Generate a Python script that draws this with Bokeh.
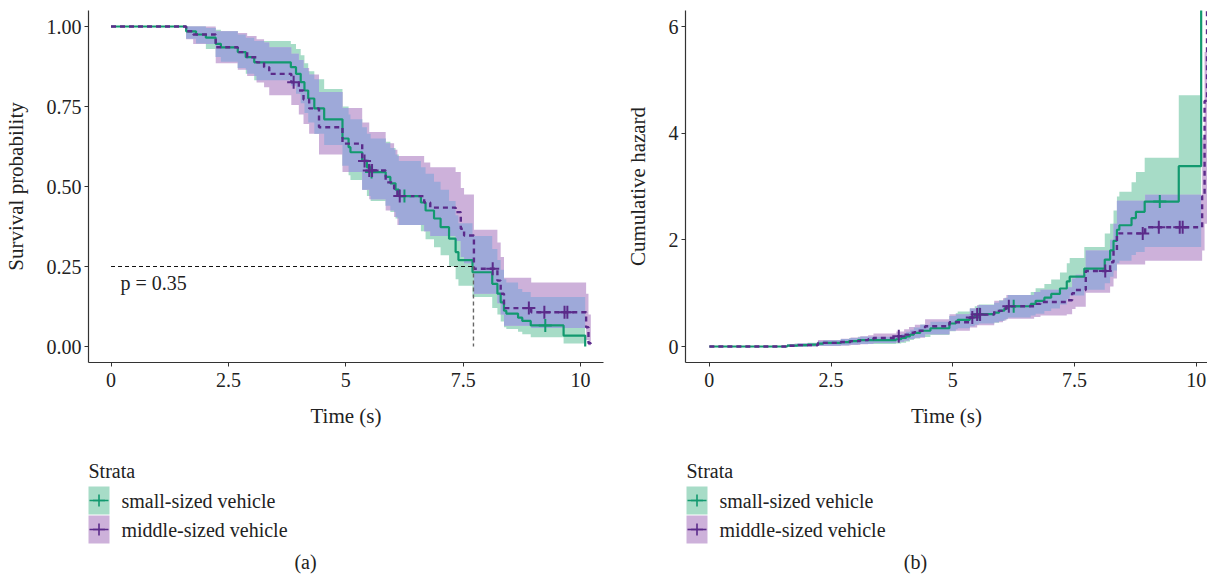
import numpy as np
from bokeh.plotting import figure
from bokeh.layouts import column, row
from bokeh.models import Range1d, FixedTicker
from bokeh.embed import file_html
from bokeh.resources import INLINE
from bokeh.core.properties import value

# ---------------- data ----------------
small_time = [0, 1.60, 1.81, 2.02, 2.23, 2.34, 2.70, 2.87, 3.05, 3.83, 3.94, 4.04, 4.12, 4.20,
              4.33, 4.54, 4.93, 5.06, 5.10, 5.35, 5.45, 5.53, 5.85, 5.95, 6.06, 6.13, 6.60, 6.70,
              6.88, 7.02, 7.20, 7.34, 7.40, 7.70, 8.12, 8.23, 8.30, 8.37, 8.42, 8.67, 8.76, 8.94,
              9.64, 10.10]
small_surv = [1.0, .985, .975, .965, .946, .935, .920, .904, .888, .873, .852, .826, .800, .775,
              .744, .710, .650, .623, .607, .580, .560, .545, .530, .510, .490, .470, .450, .425,
              .400, .373, .337, .295, .270, .232, .196, .165, .138, .112, .103, .090, .080, .066,
              .034, 0.0]
small_lower = [1.0, .962, .947, .930, .905, .890, .870, .852, .832, .815, .790, .760, .730, .700,
               .665, .630, .565, .535, .520, .490, .470, .455, .440, .420, .400, .380, .360, .335,
               .310, .285, .250, .210, .190, .155, .120, .100, .078, .060, .055, .046, .038, .029,
               .009]
small_upper = [1.0, 1.0, 1.0, .995, .990, .985, .975, .965, .955, .945, .930, .910, .885, .860,
               .835, .805, .750, .725, .710, .685, .665, .650, .640, .620, .600, .580, .560, .540,
               .515, .490, .455, .410, .385, .345, .305, .270, .240, .210, .200, .180, .170, .155,
               .155]
small_censor = [5.55, 6.25, 9.25]

mid_time = [0, 1.60, 1.75, 2.23, 2.70, 2.90, 3.10, 3.26, 3.37, 3.84, 4.00, 4.10, 4.22, 4.43,
            4.93, 5.35, 5.50, 5.85, 6.03, 6.10, 6.67, 6.80, 7.34, 7.45, 7.52, 7.73, 8.23, 8.30,
            8.37, 8.95, 10.12, 10.17, 10.22]
mid_surv = [1.0, .985, .975, .935, .920, .904, .888, .873, .852, .826, .800, .772, .744, .685,
            .634, .580, .550, .513, .493, .470, .450, .434, .420, .368, .347, .243, .206, .165,
            .120, .107, .060, .010, 0.0]
mid_lower = [1.0, .960, .945, .885, .865, .845, .825, .810, .785, .755, .725, .695, .665, .600,
             .545, .490, .460, .425, .405, .380, .360, .345, .330, .280, .260, .165, .135, .100,
             .065, .058, .020, .004]
mid_upper = [1.0, 1.0, 1.0, .985, .980, .970, .960, .950, .935, .915, .895, .870, .850, .795,
             .745, .700, .670, .635, .615, .595, .575, .560, .545, .495, .475, .365, .325, .280,
             .215, .200, .165, .100]
mid_censor = [3.89, 5.40, 5.50, 5.56, 6.15, 8.13, 8.90, 9.23, 9.66, 9.72]

median_time = 7.72
median_level = 0.25
p_value_text = "p = 0.35"
strata_labels = ["small-sized vehicle", "middle-sized vehicle"]

x_ticks = [0, 2.5, 5, 7.5, 10]
x_tick_labels = ["0", "2.5", "5", "7.5", "10"]
surv_ticks = [0, 0.25, 0.5, 0.75, 1.0]
surv_tick_labels = ["0.00", "0.25", "0.50", "0.75", "1.00"]
haz_ticks = [0, 2, 4, 6]
haz_tick_labels = ["0", "2", "4", "6"]

# ---------------- styles ----------------
FONT = "Liberation Serif"
GREEN_LINE = "#12996f"
PURPLE_LINE = "#5b2b8a"
GREEN_FILL = "#a7dcc7"
PURPLE_FILL = "#cdb1da"
OVERLAP_FILL = "#9ea9d9"
TEXT = "#222222"
AXIS = "#333333"


def step_at(times, vals, t):
    idx = np.searchsorted(np.asarray(times), np.asarray(t), side="right") - 1
    return np.asarray(vals, dtype=float)[idx]


def band_xy(times, band):
    n = len(band)
    x = np.array(list(times[:n]) + [times[n]], dtype=float)
    y = np.array(list(band) + [band[-1]], dtype=float)
    return x, y


gx, g_lo = band_xy(small_time, small_lower)
_, g_hi = band_xy(small_time, small_upper)
px_, p_lo = band_xy(mid_time, mid_lower)
_, p_hi = band_xy(mid_time, mid_upper)

band_end = min(gx[-1], px_[-1])
grid = np.array(sorted(set([t for t in gx if t < band_end] + [t for t in px_ if t < band_end])))
ov_lo = np.maximum(step_at(gx, g_lo, grid), step_at(px_, p_lo, grid))
ov_hi = np.minimum(step_at(gx, g_hi, grid), step_at(px_, p_hi, grid))
ov_hi = np.maximum(ov_hi, ov_lo)
ov_x = np.append(grid, band_end)
ov_lo = np.append(ov_lo, ov_lo[-1])
ov_hi = np.append(ov_hi, ov_hi[-1])


def cumhaz(s):
    return -np.log(np.clip(np.asarray(s, dtype=float), 1e-12, None))


def ident(s):
    return np.asarray(s, dtype=float)


def style_axes(p, yticks, ylabels, ylabel, ystandoff):
    for ax in (p.xaxis, p.yaxis):
        ax.axis_line_color = AXIS
        ax.axis_line_width = 1.2
        ax.major_tick_line_color = AXIS
        ax.major_tick_in = 0
        ax.major_tick_out = 4
        ax.minor_tick_line_color = None
        ax.major_label_text_font = FONT
        ax.major_label_text_font_size = "20px"
        ax.major_label_text_color = TEXT
        ax.axis_label_text_font = FONT
        ax.axis_label_text_font_size = "21px"
        ax.axis_label_text_font_style = "normal"
        ax.axis_label_text_color = TEXT
    p.xaxis.ticker = FixedTicker(ticks=x_ticks)
    p.xaxis.major_label_overrides = {t: l for t, l in zip(x_ticks, x_tick_labels)}
    p.yaxis.ticker = FixedTicker(ticks=yticks)
    p.yaxis.major_label_overrides = {t: l for t, l in zip(yticks, ylabels)}
    p.xaxis.axis_label = "Time (s)"
    p.yaxis.axis_label = ylabel
    p.xaxis.major_label_standoff = 6
    p.xaxis.axis_label_standoff = 14
    p.yaxis.major_label_standoff = 3
    p.yaxis.axis_label_standoff = ystandoff
    p.grid.grid_line_color = None
    p.outline_line_color = None


def draw(p, tf, flip):
    lo_g, hi_g = (g_hi, g_lo) if flip else (g_lo, g_hi)
    lo_p, hi_p = (p_hi, p_lo) if flip else (p_lo, p_hi)
    lo_o, hi_o = (ov_hi, ov_lo) if flip else (ov_lo, ov_hi)
    p.varea_step(x=gx, y1=tf(lo_g), y2=tf(hi_g), step_mode="after", fill_color=GREEN_FILL, fill_alpha=1)
    p.varea_step(x=px_, y1=tf(lo_p), y2=tf(hi_p), step_mode="after", fill_color=PURPLE_FILL, fill_alpha=1)
    p.varea_step(x=ov_x, y1=tf(lo_o), y2=tf(hi_o), step_mode="after", fill_color=OVERLAP_FILL, fill_alpha=1)
    p.step(x=small_time, y=tf(small_surv), mode="after", line_color=GREEN_LINE, line_width=2.2)
    p.step(x=mid_time, y=tf(mid_surv), mode="after", line_color=PURPLE_LINE, line_width=2.4,
           line_dash="5 4")
    p.scatter(x=small_censor, y=tf(step_at(small_time, small_surv, small_censor)), marker="cross",
              size=13, line_color=GREEN_LINE, line_width=2)
    p.scatter(x=mid_censor, y=tf(step_at(mid_time, mid_surv, mid_censor)), marker="cross",
              size=13, line_color=PURPLE_LINE, line_width=2)


# ---------------- panel (a) ----------------
pa = figure(width=606, height=440, x_range=Range1d(-0.48, 10.49), y_range=Range1d(-0.05, 1.05),
            output_backend="svg", toolbar_location=None, min_border_left=88, min_border_right=3,
            min_border_top=10, min_border_bottom=78)
draw(pa, ident, False)
pa.line(x=[0, median_time], y=[median_level, median_level], line_color="#111111", line_width=1.2,
        line_dash="4 3")
pa.line(x=[median_time, median_time], y=[median_level, 0], line_color="#666666", line_width=1.4,
        line_dash="4 3")
pa.text(x=[0.2], y=[0.2], text=[p_value_text], text_font=value(FONT), text_font_size="20px",
        text_color=TEXT, text_baseline="middle", text_align="left")
style_axes(pa, surv_ticks, surv_tick_labels, "Survival probability", 16)

# ---------------- panel (b) ----------------
pb = figure(width=601, height=440, x_range=Range1d(-0.49, 10.23), y_range=Range1d(-0.3, 6.3),
            output_backend="svg", toolbar_location=None, min_border_left=79, min_border_right=0,
            min_border_top=10, min_border_bottom=78)
draw(pb, cumhaz, True)
style_axes(pb, haz_ticks, haz_tick_labels, "Cumulative hazard", 16)

# ---------------- legends and panel tags ----------------
pl = figure(width=1207, height=135, x_range=Range1d(0, 1207), y_range=Range1d(575, 440),
            output_backend="svg", toolbar_location=None, min_border_left=0, min_border_right=0,
            min_border_top=0, min_border_bottom=0, x_axis_location=None, y_axis_location=None)
pl.grid.grid_line_color = None
pl.outline_line_color = None

for x0, tag, tagx in [(88, "(a)", 305), (686, "(b)", 915)]:
    pl.text(x=[x0], y=[470], text=["Strata"], text_font=value(FONT), text_font_size="20px",
            text_color=TEXT, text_baseline="middle", text_align="left")
    pl.quad(left=[x0, x0], right=[x0 + 21, x0 + 21], top=[486, 515], bottom=[514, 543],
            fill_color=[GREEN_FILL, PURPLE_FILL], line_color=None)
    for yc, col in [(500, GREEN_LINE), (529, PURPLE_LINE)]:
        pl.line(x=[x0 + 1, x0 + 20], y=[yc, yc], line_color=col, line_width=1.6)
    pl.scatter(x=[x0 + 10.5, x0 + 10.5], y=[500, 529], marker="cross", size=12,
               line_color=[GREEN_LINE, PURPLE_LINE], line_width=1.6)
    pl.text(x=[x0 + 33, x0 + 33], y=[500, 529], text=strata_labels, text_font=value(FONT),
            text_font_size="20px", text_color=TEXT, text_baseline="middle", text_align="left")
    pl.text(x=[tagx], y=[561], text=[tag], text_font=value(FONT), text_font_size="20px",
            text_color=TEXT, text_baseline="middle", text_align="center")

layout = column(row(pa, pb), pl)
open("out.html", "w").write(file_html(layout, INLINE))
